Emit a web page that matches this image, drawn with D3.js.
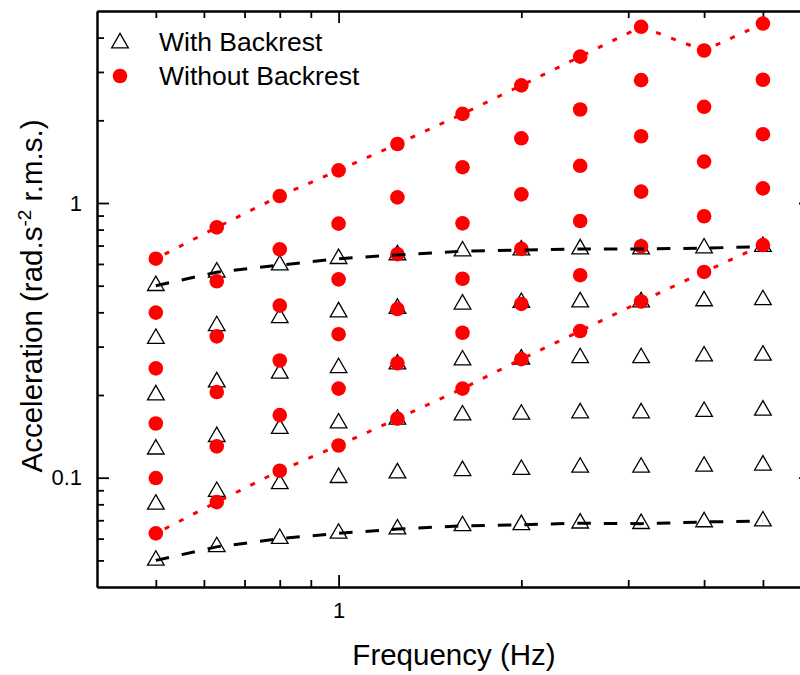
<!DOCTYPE html>
<html>
<head>
<meta charset="utf-8">
<script src="https://cdn.jsdelivr.net/npm/d3@7"></script>
<style>
  html, body { margin: 0; padding: 0; background: #fff; }
  svg { display: block; font-family: "Liberation Sans", Arial, sans-serif; }
</style>
</head>
<body>
<svg id="chart" width="800" height="675"></svg>
<script>
// ---- Data ----
const freqs = [0.5, 0.63, 0.8, 1, 1.25, 1.6, 2, 2.5, 3.15, 4, 5];

// With Backrest (triangles): magnitudes per frequency, top to bottom
const withBackrest = [
  [0.5, 0.321, 0.2, 0.127, 0.08, 0.05],
  [0.56, 0.357, 0.223, 0.141, 0.089, 0.056],
  [0.594, 0.382, 0.24, 0.151, 0.095, 0.06],
  [0.627, 0.401, 0.251, 0.158, 0.1, 0.0627],
  [0.647, 0.413, 0.259, 0.163, 0.104, 0.065],
  [0.668, 0.428, 0.268, 0.169, 0.106, 0.0668],
  [0.674, 0.434, 0.27, 0.17, 0.107, 0.0674],
  [0.68, 0.436, 0.273, 0.172, 0.109, 0.0683],
  [0.68, 0.436, 0.273, 0.172, 0.109, 0.068],
  [0.685, 0.44, 0.277, 0.174, 0.11, 0.069],
  [0.694, 0.444, 0.279, 0.176, 0.111, 0.0695]
];

// Without Backrest (circles)
const withoutBackrest = [
  [0.627, 0.399, 0.25, 0.1575, 0.0997, 0.0627],
  [0.815, 0.519, 0.327, 0.205, 0.13, 0.0815],
  [1.06, 0.678, 0.423, 0.267, 0.169, 0.106],
  [1.315, 0.841, 0.527, 0.333, 0.211, 0.131],
  [1.64, 1.048, 0.651, 0.411, 0.261, 0.164],
  [2.11, 1.35, 0.843, 0.53, 0.337, 0.211],
  [2.68, 1.72, 1.075, 0.681, 0.429, 0.27],
  [3.41, 2.19, 1.366, 0.86, 0.546, 0.342],
  [4.38, 2.8, 1.75, 1.1, 0.696, 0.438],
  [3.59, 2.24, 1.415, 0.895, 0.561],
  [4.5, 2.81, 1.78, 1.13, 0.703]
];

const xMajorTicks = [1];
const xMinorTicks = [0.5, 0.6, 0.7, 0.8, 0.9, 2, 3, 4, 5];
const yMajorTicks = [0.1, 1];
const yMinorTicks = [0.05, 0.06, 0.07, 0.08, 0.09, 0.2, 0.3, 0.4, 0.5, 0.6, 0.7, 0.8, 0.9, 2, 3, 4];
const seriesNames = ["With Backrest", "Without Backrest"];
const xTitle = "Frequency (Hz)";

(function () {
// ---- Layout ----
const svg = d3.select("#chart");
const pL = 97, pR = 811, pT = 11, pB = 587;

const x = d3.scaleLog().domain([0.4, 6]).range([pL, pR]);
const y = d3.scaleLog().domain([0.04, 5]).range([pB, pT]);

const fmt = d => (d >= 1 ? d3.format("d")(d) : String(d));

function styleAxis(g) {
  g.selectAll(".domain").attr("stroke", "#000").attr("stroke-width", 2);
  g.selectAll(".tick line").attr("stroke", "#000").attr("stroke-width", 1.8);
  g.selectAll(".tick text").attr("fill", "#000").style("font-size", "22px")
    .style("font-family", '"Liberation Sans", Arial, sans-serif');
}

// Bottom
svg.append("g").attr("transform", `translate(0,${pB})`)
  .call(d3.axisBottom(x).tickValues(xMajorTicks).tickFormat(fmt).tickSize(-12).tickSizeOuter(0).tickPadding(15))
  .call(styleAxis);
svg.append("g").attr("transform", `translate(0,${pB})`)
  .call(d3.axisBottom(x).tickValues(xMinorTicks).tickFormat("").tickSize(-7).tickSizeOuter(0))
  .call(styleAxis);
// Top
svg.append("g").attr("transform", `translate(0,${pT})`)
  .call(d3.axisTop(x).tickValues(xMajorTicks).tickFormat("").tickSize(-12).tickSizeOuter(0))
  .call(styleAxis);
svg.append("g").attr("transform", `translate(0,${pT})`)
  .call(d3.axisTop(x).tickValues(xMinorTicks).tickFormat("").tickSize(-7).tickSizeOuter(0))
  .call(styleAxis);
// Left
svg.append("g").attr("transform", `translate(${pL},0)`)
  .call(d3.axisLeft(y).tickValues(yMajorTicks).tickFormat(fmt).tickSize(-12).tickSizeOuter(0).tickPadding(15))
  .call(styleAxis);
svg.append("g").attr("transform", `translate(${pL},0)`)
  .call(d3.axisLeft(y).tickValues(yMinorTicks).tickFormat("").tickSize(-7).tickSizeOuter(0))
  .call(styleAxis);
// Right
svg.append("g").attr("transform", `translate(${pR},0)`)
  .call(d3.axisRight(y).tickValues(yMajorTicks).tickFormat("").tickSize(-12).tickSizeOuter(0))
  .call(styleAxis);
svg.append("g").attr("transform", `translate(${pR},0)`)
  .call(d3.axisRight(y).tickValues(yMinorTicks).tickFormat("").tickSize(-7).tickSizeOuter(0))
  .call(styleAxis);

// ---- Marks ----
const triSym = d3.symbol().type(d3.symbolTriangle).size(120);

const triPts = [];
freqs.forEach((f, i) => withBackrest[i].forEach(v => triPts.push([f, v])));
const cirPts = [];
freqs.forEach((f, i) => withoutBackrest[i].forEach(v => cirPts.push([f, v])));

svg.append("g").selectAll("path").data(triPts).join("path")
  .attr("d", triSym)
  .attr("transform", d => `translate(${x(d[0])},${y(d[1])})`)
  .attr("fill", "none").attr("stroke", "#000").attr("stroke-width", 1.3);

svg.append("g").selectAll("circle").data(cirPts).join("circle")
  .attr("cx", d => x(d[0])).attr("cy", d => y(d[1])).attr("r", 7.3)
  .attr("fill", "#ff0000");

const line = d3.line().x(d => x(d[0])).y(d => y(d[1]));

const cirTop = freqs.map((f, i) => [f, withoutBackrest[i][0]]);
const cirBot = freqs.map((f, i) => [f, withoutBackrest[i][withoutBackrest[i].length - 1]]);
const triTop = freqs.map((f, i) => [f, withBackrest[i][0]]);
const triBot = freqs.map((f, i) => [f, withBackrest[i][withBackrest[i].length - 1]]);

[cirTop, cirBot].forEach(data => {
  svg.append("path").datum(data).attr("d", line)
    .attr("fill", "none").attr("stroke", "#ff0000").attr("stroke-width", 3)
    .attr("stroke-dasharray", "5,11").attr("stroke-dashoffset", -10);
});
[triTop, triBot].forEach(data => {
  svg.append("path").datum(data).attr("d", line)
    .attr("fill", "none").attr("stroke", "#000").attr("stroke-width", 3)
    .attr("stroke-dasharray", "13.5,13");
});

// ---- Legend ----
const lg = svg.append("g");
lg.append("path").attr("d", triSym).attr("transform", "translate(120,43)")
  .attr("fill", "none").attr("stroke", "#000").attr("stroke-width", 1.3);
lg.append("circle").attr("cx", 120).attr("cy", 76).attr("r", 7.3).attr("fill", "#ff0000");
lg.append("text").attr("x", 159).attr("y", 51).style("font-size", "26.5px").text(seriesNames[0]);
lg.append("text").attr("x", 159).attr("y", 85).style("font-size", "26.5px").text(seriesNames[1]);

// ---- Axis titles ----
svg.append("text").attr("x", (pL + pR) / 2).attr("y", 665)
  .attr("text-anchor", "middle").style("font-size", "29.5px").text(xTitle);

const yt = svg.append("text").attr("transform", "translate(42,296) rotate(-90)")
  .attr("text-anchor", "middle").style("font-size", "29.5px");
yt.append("tspan").text("Acceleration (rad.s");
yt.append("tspan").attr("dy", -11).style("font-size", "19px").text("-2");
yt.append("tspan").attr("dy", 11).text(" r.m.s.)");
})();
</script>
</body>
</html>
